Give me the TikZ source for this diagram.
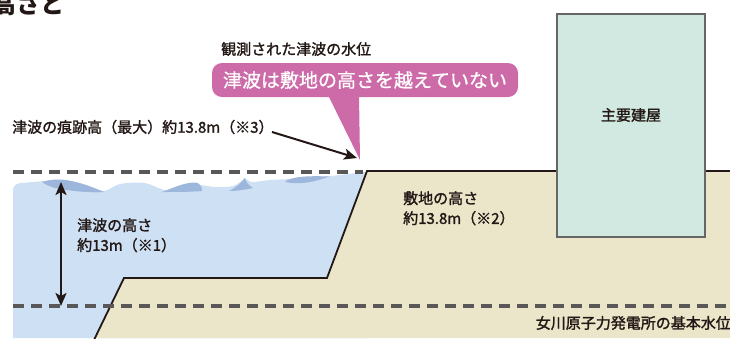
\documentclass[tikz,border=0pt]{standalone}
\usepackage{fontspec}
\setmainfont{Noto Sans CJK JP}
\newfontfamily\lblfont{Noto Sans CJK JP}[FakeBold=1.6]
\newfontfamily\msgfont{Noto Sans CJK JP}[FakeBold=0.9]
\usetikzlibrary{arrows.meta}

\definecolor{water}{HTML}{CEE0F3}
\definecolor{crest}{HTML}{9DB6DB}
\definecolor{ground}{HTML}{EBE5C9}
\definecolor{bldg}{HTML}{D1E9E1}
\definecolor{dashgray}{HTML}{595757}
\definecolor{callout}{HTML}{CC6BA8}
\definecolor{ink}{HTML}{231815}

\begin{document}
\begin{tikzpicture}[x=1pt,y=-1pt,
  lbl/.style={font=\lblfont\fontsize{15}{20}\selectfont, text=ink, inner sep=0pt, align=left},
  level/.style={draw=dashgray, line width=4pt, dash pattern=on 11pt off 7pt},
  edge/.style={draw=ink, line width=1.8pt, line join=miter},
  pointer/.style={draw=ink, line width=2pt, -{Stealth[length=13pt,width=11pt,inset=3pt]}},
  dimline/.style={draw=ink, line width=2pt, {Stealth[length=13pt,width=11pt,inset=3pt]}-{Stealth[length=13pt,width=11pt,inset=3pt]}},
  msgbox/.style={fill=callout, rounded corners=10pt, minimum width=306pt, minimum height=34pt,
    text=white, inner sep=0pt, font=\msgfont\fontsize{19}{20}\selectfont},
  house/.style={draw=black!60, line width=1.8pt, fill=bldg, minimum width=148pt, minimum height=223pt, inner sep=0pt}
]
\useasboundingbox (0,0) rectangle (730,338);
\clip (0,0) rectangle (730,338);

% heading, partly outside the frame
\node[anchor=base west, inner sep=0pt, text=ink, font=\fontsize{24}{24}\bfseries\selectfont] (head) at (-8,13) {高さと};

% sea body with a wavy surface
\fill[water] (13,338) -- (13,190) .. controls (13,186) and (16,183) .. (22,183)
  -- plot[smooth, tension=0.55] coordinates {(22,183) (45,181) (60,180) (80,184) (103,191) (120,184) (145,183) (165,190) (185,186) (200,185) (215,187) (233,186) (245,179) (252,182) (270,180) (290,179) (320,177) (340,175) (364,172)}
  -- (370,172) -- (370,338) -- cycle;

% darker wave crests
\fill[crest] (42,182) .. controls (50,179.5) and (58,179) .. (66,180) .. controls (80,182) and (95,188) .. (104,192) .. controls (90,193) and (70,191) .. (55,188) .. controls (49,186) and (45,184.5) .. (42,182) -- cycle;
\fill[crest] (162,192) .. controls (175,187) and (185,182.5) .. (195,182.5) .. controls (199,182.5) and (202,186) .. (202,191) .. controls (190,192) and (175,192) .. (162,192) -- cycle;
\fill[crest] (229,191) .. controls (237,187) and (242,182) .. (245,177.5) .. controls (246,182) and (248,185) .. (253,188) .. controls (243,190) and (236,191) .. (229,191) -- cycle;
\fill[crest] (285,182) .. controls (290,177) and (305,175.5) .. (329,176.5) .. controls (315,182) and (300,185) .. (285,182) -- cycle;

% site ground with embankment
\fill[ground] (95,338) -- (124,278) -- (327,278) -- (367,171) -- (730,171) -- (730,338) -- cycle;
\draw[edge] (93,342) -- (124,278) -- (327,278) -- (367,171) -- (732,171);

% reference levels
\draw[level] (13,172) -- (363,172);
\draw[level] (13,306) -- (732,306);

% main building
\node[house] (bldg) at (631,125.5) {};
\node[lbl] (bldglbl) at (631,115) {主要建屋};

% tsunami height dimension
\coordinate (surf) at (61,182);
\coordinate (base) at (61,306);
\draw[dimline] (surf) -- (base);
\node[lbl, anchor=north west] (tsh) at (77,218) {津波の高さ\\約13m（※1）};

% site height label
\node[lbl, anchor=north west] (siteh) at (403,191) {敷地の高さ\\約13.8m（※2）};

% base water level label
\node[lbl, anchor=east] (basel) at (731,323) {女川原子力発電所の基本水位};

% trace height with pointer
\node[lbl, anchor=west] (trace) at (12,127) {津波の痕跡高（最大）約13.8m（※3）};
\coordinate (traceend) at (272,132);
\coordinate (tip) at (357,158);
\draw[pointer] (traceend) -- (tip);

% observed level callout
\node[lbl, anchor=west] (obs) at (221,49) {観測された津波の水位};
\node[msgbox] (msg) at (365,80) {津波は敷地の高さを越えていない};
\fill[callout] (328,95) -- (359,95) -- (360,160) -- cycle;
\end{tikzpicture}
\end{document}
